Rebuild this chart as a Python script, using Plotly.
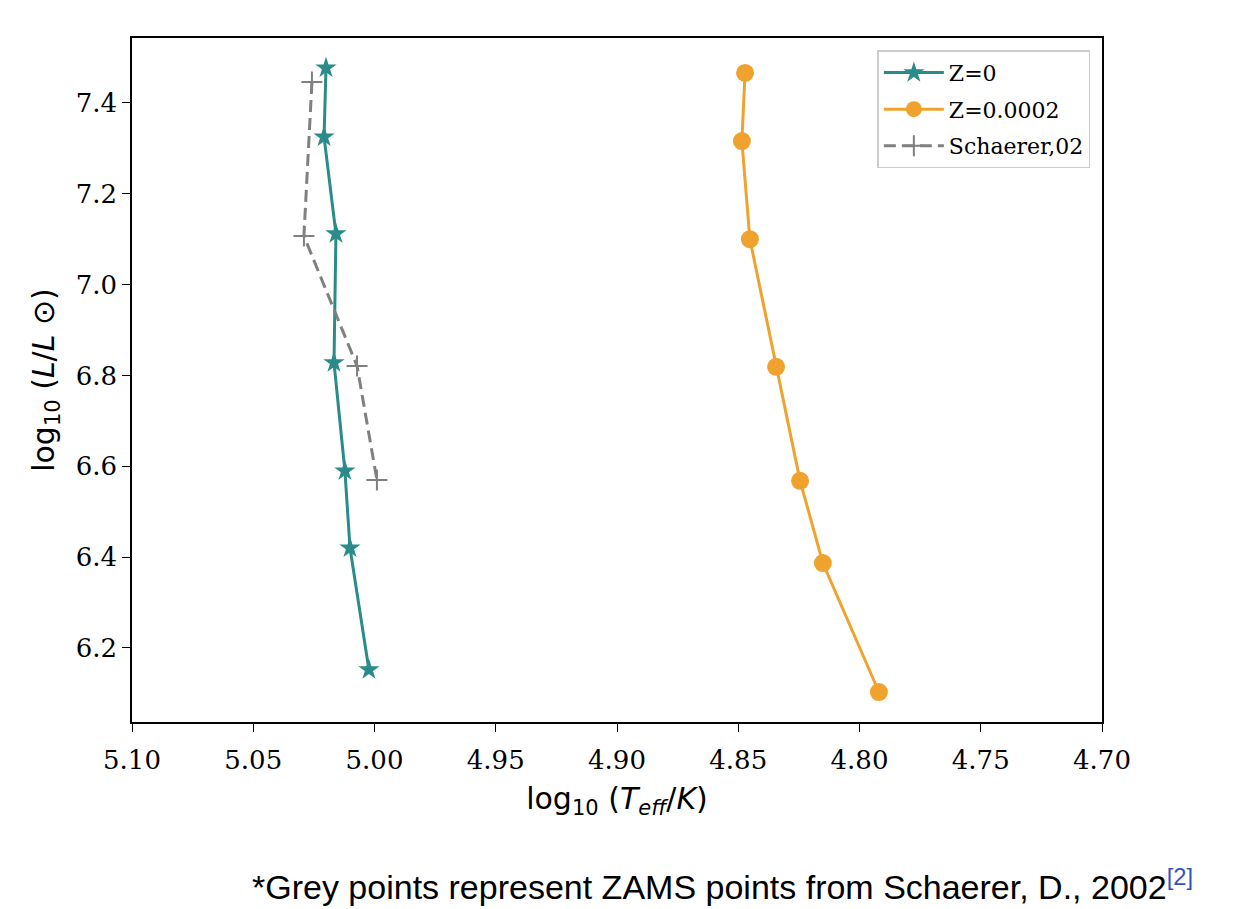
import plotly.graph_objects as go

# Z=0 track
z0_teff = [5.020, 5.0208, 5.0159, 5.0167, 5.0122, 5.0101, 5.0023]
z0_lum = [7.477, 7.325, 7.112, 6.828, 6.590, 6.420, 6.152]

# Z=0.0002 track
z2_teff = [4.8472, 4.8485, 4.8452, 4.8344, 4.8245, 4.8151, 4.7920]
z2_lum = [7.466, 7.316, 7.100, 6.819, 6.568, 6.387, 6.103]

# Schaerer 2002 ZAMS points
sch_teff = [5.0258, 5.0291, 5.0072, 4.9990]
sch_lum = [7.446, 7.107, 6.821, 6.570]

x_ticks = [5.10, 5.05, 5.00, 4.95, 4.90, 4.85, 4.80, 4.75, 4.70]
y_ticks = [6.2, 6.4, 6.6, 6.8, 7.0, 7.2, 7.4]

teal = "#2a8c8a"
orange = "#f0a22e"
grey = "#808080"

fig = go.Figure()
fig.add_trace(go.Scatter(
    x=z0_teff, y=z0_lum, mode="lines+markers", name="Z=0", legendgroup="a",
    line=dict(color=teal, width=3),
    marker=dict(symbol="star", size=16, color=teal),
))
fig.add_trace(go.Scatter(
    x=z2_teff, y=z2_lum, mode="lines+markers", name="Z=0.0002", legendgroup="b",
    line=dict(color=orange, width=3),
    marker=dict(symbol="circle", size=18, color=orange),
))
fig.add_trace(go.Scatter(
    x=sch_teff, y=sch_lum, mode="lines+markers", name="Schaerer,02", legendgroup="c",
    line=dict(color=grey, width=3, dash="12px,6px"),
    marker=dict(symbol="cross-thin", size=15, color=grey,
                line=dict(color=grey, width=2)),
))

serif = "DejaVu Serif"
sans = "DejaVu Sans"

fig.update_layout(
    width=1260, height=909,
    margin=dict(l=132, r=158, t=38, b=187),
    paper_bgcolor="white", plot_bgcolor="white",
    showlegend=True,
    legend=dict(
        x=0.988, y=0.982, xanchor="right", yanchor="top",
        bgcolor="rgba(255,255,255,0.9)", bordercolor="#cccccc", borderwidth=1.5,
        font=dict(family=serif, size=22, color="black"),
        itemwidth=60, tracegroupgap=5,
    ),
    xaxis=dict(
        range=[5.10, 4.70], tickvals=x_ticks,
        ticktext=[f"{v:.2f}" for v in x_ticks],
        showgrid=False, zeroline=False,
        showline=True, linecolor="black", linewidth=1.5, mirror=True,
        ticks="outside", ticklen=8, tickwidth=1.2, tickcolor="black",
        ticklabelstandoff=6,
        tickfont=dict(family=serif, size=26, color="black"),
        title=dict(text="log<sub>10</sub> (<i>T</i><sub><i>eff</i></sub>/<i>K</i>)",
                   font=dict(family=sans, size=30, color="black"), standoff=14),
    ),
    yaxis=dict(
        range=[6.037, 7.543], tickvals=y_ticks,
        ticktext=[f"{v:.1f}" for v in y_ticks],
        showgrid=False, zeroline=False,
        showline=True, linecolor="black", linewidth=1.5, mirror=True,
        ticks="outside", ticklen=8, tickwidth=1.2, tickcolor="black",
        tickfont=dict(family=serif, size=26, color="black"),
        title=dict(text="log<sub>10</sub> (<i>L</i>/<i>L</i> ⊙)",
                   font=dict(family=sans, size=30, color="black"), standoff=12),
    ),
)

fig.add_annotation(
    xref="paper", yref="paper", x=(722 - 132) / 970, y=-(884 - 722) / 684,
    xanchor="center", yanchor="middle", showarrow=False,
    text="*Grey points represent ZAMS points from Schaerer, D., 2002"
         "<sup><span style='color:#3355bb'>[2]</span></sup>",
    font=dict(family="Liberation Sans", size=34, color="black"),
)

fig.write_html("out.html")
